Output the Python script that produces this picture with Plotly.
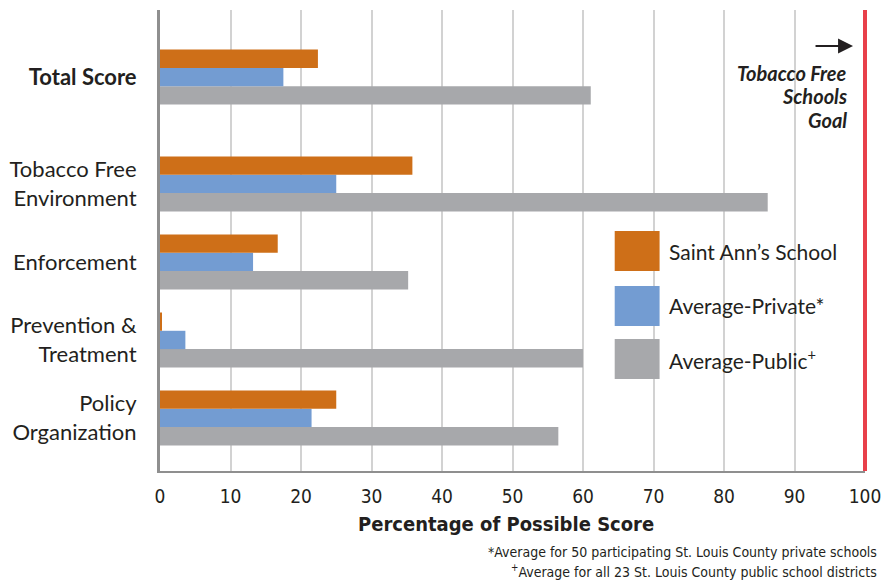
import plotly.graph_objects as go

# ---------------- data ----------------
categories = ["<b>Total Score</b>", "Tobacco Free<br>Environment", "Enforcement",
              "Prevention &<br>Treatment", "Policy<br>Organization"]
cat_pos = [4.37, 3, 2, 1, 0]
saint_ann = [22.4, 35.8, 16.7, 0.15, 25.0]
avg_private = [17.5, 25.0, 13.2, 3.6, 21.5]
avg_public = [61.1, 86.2, 35.2, 60.0, 56.5]
series_names = ["Saint Ann’s School", "Average-Private*", "Average-Public<sup>+</sup>"]
x_ticks = list(range(0, 101, 10))
goal_lines = ["Tobacco Free", "Schools", "Goal"]

# ---------------- style ----------------
OFF = 8  # page body margin
W, H = 894 - OFF, 583 - OFF
SCR_L, SCR_R, SCR_T, SCR_B = 158, 865, 10, 471
ML, MR, MT, MB = SCR_L - OFF, W - (SCR_R - OFF), SCR_T - OFF, H - (SCR_B - OFF)
C_ORANGE = "#CE6F18"
C_BLUE = "#739CD2"
C_GRAY = "#A7A8AB"
C_RED = "#E8404A"
FONT = "Lato, 'Open Sans', sans-serif"
COND = "'Liberation Sans Narrow', 'DejaVu Sans Condensed', 'Roboto Condensed', Roboto, sans-serif"
TXT = "#231F20"


def px_x(px):
    return (px - SCR_L) / (SCR_R - SCR_L)


def px_y(py):
    return (SCR_B - py) / (SCR_B - SCR_T)


fig = go.Figure()
for vals, name, col in [(avg_public, series_names[2], C_GRAY),
                        (avg_private, series_names[1], C_BLUE),
                        (saint_ann, series_names[0], C_ORANGE)]:
    fig.add_trace(go.Bar(x=vals, y=cat_pos, orientation="h", name=name,
                         marker=dict(color=col, line=dict(width=0)),
                         showlegend=False))

shapes = [
    dict(type="line", xref="paper", yref="paper", x0=1, x1=1, y0=0, y1=1,
         line=dict(color=C_RED, width=4), layer="above"),
]
annotations = []

legend_rows = [(series_names[0], C_ORANGE, 231, 271),
               (series_names[1], C_BLUE, 286, 326),
               (series_names[2], C_GRAY, 339, 379)]
for name, col, top, bot in legend_rows:
    shapes.append(dict(type="rect", xref="paper", yref="paper",
                       x0=px_x(614), x1=px_x(659), y0=px_y(bot), y1=px_y(top),
                       fillcolor=col, line=dict(width=0), layer="above"))
    annotations.append(dict(xref="paper", yref="paper", x=px_x(666), y=px_y((top + bot) / 2),
                            xanchor="left", yanchor="middle", showarrow=False, text=name,
                            font=dict(family=FONT, size=21, color=TXT)))

for txt, yc in zip(goal_lines, [73, 96, 120]):
    annotations.append(dict(xref="paper", yref="paper", x=px_x(849), y=px_y(yc),
                            xanchor="right", yanchor="middle", showarrow=False,
                            text="<b><i>%s</i></b>" % txt,
                            font=dict(family=FONT, size=20, color=TXT)))
annotations.append(dict(xref="paper", yref="paper", x=px_x(853), y=px_y(46),
                        ax=-39, ay=0, showarrow=True, arrowhead=2, arrowsize=1.5,
                        arrowwidth=2, arrowcolor=TXT, text=""))

annotations.append(dict(xref="paper", yref="paper", x=px_x(505), y=px_y(524),
                        xanchor="center", yanchor="middle", showarrow=False,
                        text="<b>Percentage of Possible Score</b>",
                        font=dict(family=COND, size=20, color=TXT)))
annotations.append(dict(xref="paper", yref="paper", x=px_x(879), y=px_y(552),
                        xanchor="right", yanchor="middle", showarrow=False,
                        text="*Average for 50 participating St. Louis County private schools",
                        font=dict(family=COND, size=14, color=TXT)))
annotations.append(dict(xref="paper", yref="paper", x=px_x(879), y=px_y(571),
                        xanchor="right", yanchor="middle", showarrow=False,
                        text="<sup>+</sup>Average for all 23 St. Louis County public school districts",
                        font=dict(family=COND, size=14, color=TXT)))

fig.update_layout(
    width=W, height=H,
    margin=dict(l=ML, r=MR, t=MT, b=MB, pad=0),
    paper_bgcolor="white", plot_bgcolor="white",
    barmode="group", bargap=0.295, bargroupgap=0,
    shapes=shapes, annotations=annotations,
    showlegend=False,
    xaxis=dict(range=[0, 100], tickvals=x_ticks, ticktext=[str(v) for v in x_ticks],
               showgrid=True, gridcolor="#D2D2D2", gridwidth=2,
               showline=True, linecolor="#8F8F8F", linewidth=2,
               zeroline=False, ticks="", ticklabelstandoff=7,
               tickfont=dict(family=COND, size=19, color=TXT), fixedrange=True),
    yaxis=dict(range=[-0.68, 5.23], tickvals=cat_pos, ticktext=categories,
               showgrid=False, zeroline=False,
               showline=True, linecolor="#8F8F8F", linewidth=3,
               ticks="", ticklabelstandoff=16,
               tickfont=dict(family=FONT, size=22, color=TXT), fixedrange=True),
)

fig.write_html("out.html")
